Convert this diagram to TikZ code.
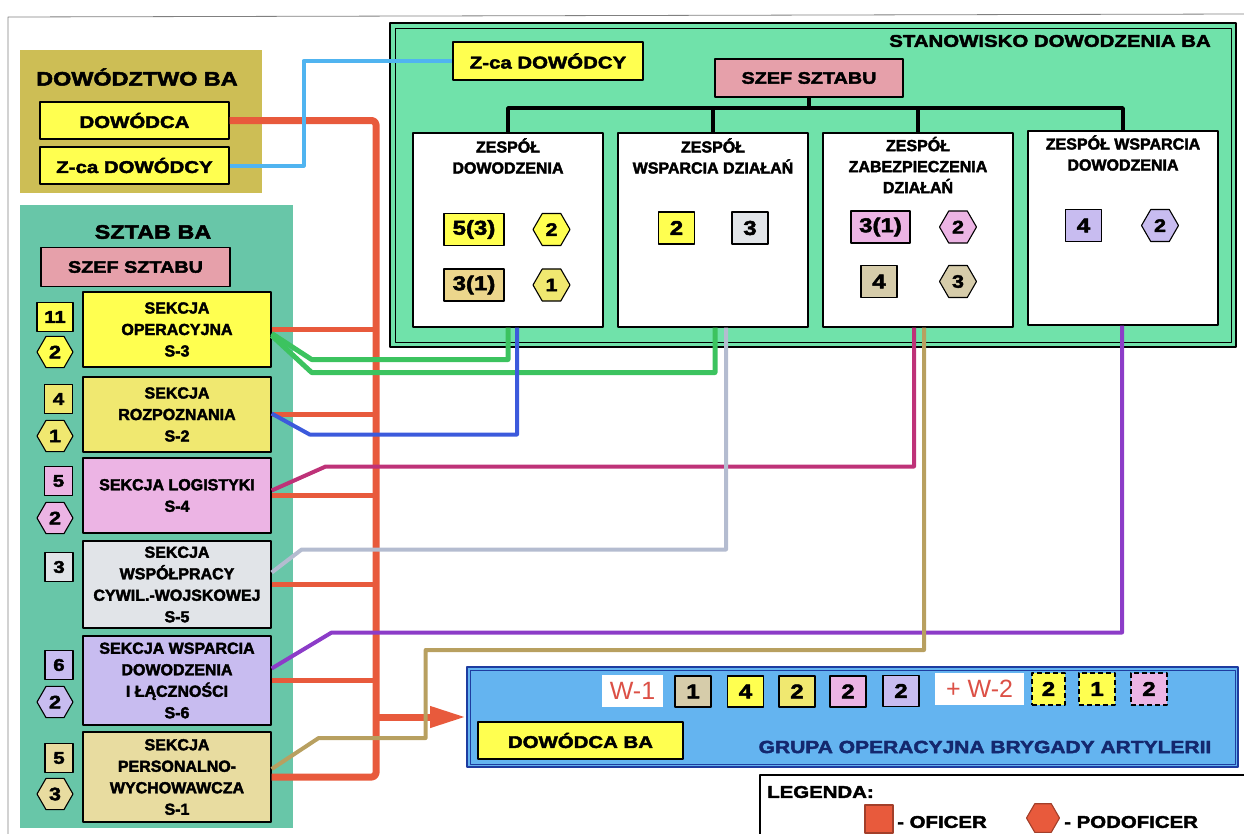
\documentclass[tikz,border=0pt]{standalone}
\usepackage{fontspec}
\setmainfont{Liberation Sans}[BoldFeatures={FakeBold=2.5}]
\newfontfamily\widefont{Liberation Sans}[FakeStretch=1.2, BoldFeatures={FakeBold=2.5}]
\usetikzlibrary{arrows.meta,shapes.geometric,calc}

\definecolor{colive}{RGB}{205,190,85}
\definecolor{cteal}{RGB}{104,198,168}
\definecolor{cmint}{RGB}{112,226,170}
\definecolor{cyellow}{RGB}{255,255,80}
\definecolor{cyellowb}{RGB}{240,232,112}
\definecolor{cpink}{RGB}{230,160,170}
\definecolor{corchid}{RGB}{236,180,228}
\definecolor{cgray}{RGB}{225,228,232}
\definecolor{clav}{RGB}{200,188,240}
\definecolor{cbeige}{RGB}{232,220,160}
\definecolor{ckhaki}{RGB}{236,214,140}
\definecolor{cstone}{RGB}{214,204,170}
\definecolor{cblue}{RGB}{100,180,240}
\definecolor{cdblue}{RGB}{30,60,160}
\definecolor{cred}{RGB}{232,90,60}
\definecolor{cwred}{RGB}{220,80,70}
\definecolor{cgreen}{RGB}{60,195,95}
\definecolor{cbline}{RGB}{60,90,220}
\definecolor{ccyan}{RGB}{80,180,240}
\definecolor{cmag}{RGB}{190,50,120}
\definecolor{cgline}{RGB}{180,188,208}
\definecolor{cpurple}{RGB}{140,60,200}
\definecolor{ctan}{RGB}{184,160,96}
\definecolor{cnavy}{RGB}{20,40,110}

\begin{document}
\begin{tikzpicture}[
    x=1pt, y=-1pt,
    line join=round,
    box/.style={draw, line width=1.3pt, inner sep=0pt},
    person/.style={box, fill=cyellow, minimum width=189pt, minimum height=37pt,
        font=\widefont\bfseries\fontsize{17}{17}\selectfont},
    chief/.style={box, fill=cpink, minimum width=189pt, minimum height=39pt,
        font=\widefont\bfseries\fontsize{16.5}{16.5}\selectfont},
    sect/.style={box, minimum width=188pt, align=center,
        font=\bfseries\fontsize{16}{21.5}\selectfont},
    cnt/.style={box, minimum width=28pt, minimum height=29pt,
        font=\widefont\bfseries\fontsize{17}{17}\selectfont},
    hexa/.style={regular polygon, regular polygon sides=6, draw, line width=1.1pt,
        minimum size=36pt, inner sep=0pt,
        font=\widefont\bfseries\fontsize{18}{18}\selectfont},
    team/.style={box, fill=white, minimum width=190pt, minimum height=194pt},
    teamtitle/.style={align=center, inner sep=0pt,
        font=\bfseries\fontsize{16}{21}\selectfont},
    num/.style={box, minimum width=36pt, minimum height=32pt,
        font=\widefont\bfseries\fontsize{20}{20}\selectfont},
    paneltitle/.style={inner sep=0pt,
        font=\widefont\bfseries\fontsize{19.5}{19.5}\selectfont},
    smalltitle/.style={inner sep=0pt,
        font=\widefont\bfseries\fontsize{17}{17}\selectfont},
    wlabel/.style={fill=white, inner sep=0pt, minimum height=32pt, text=cwred,
        font=\fontsize{25}{25}\selectfont},
    conn/.style={line width=4pt},
    redline/.style={line width=7pt, color=cred},
    redstub/.style={line width=5pt, color=cred},
    treeline/.style={line width=3.5pt}
]
\clip (0,0) rectangle (1244,833);

% Ramka
\draw[gray, line width=0.8pt] (8,840) -- (8,17) -- (1244,14);

% Dowodztwo BA
\fill[colive] (20,50) rectangle (262,193);
\node[paneltitle] (dowt) at (137,77) {DOWÓDZTWO BA};
\node[person] (dowodca) at (134.5,120.5) {DOWÓDCA};
\node[person] (zcaL) at (134.5,165.5) {Z-ca DOWÓDCY};

% Sztab BA
\fill[cteal] (20,205) rectangle (293,828);
\node[paneltitle] (sztt) at (153,232) {SZTAB BA};
\node[chief] (szef1) at (135.5,267) {SZEF SZTABU};

\node[sect, fill=cyellow, minimum height=75pt] (s3) at (177,329.5) {SEKCJA\\OPERACYJNA\\S-3};
\node[sect, fill=cyellowb, minimum height=75pt] (s2) at (177,414.5) {SEKCJA\\ROZPOZNANIA\\S-2};
\node[sect, fill=corchid, minimum height=75pt] (s4) at (177,495.5) {SEKCJA LOGISTYKI\\S-4};
\node[sect, fill=cgray, minimum height=87pt] (s5) at (177,584.5) {SEKCJA\\WSPÓŁPRACY\\CYWIL.-WOJSKOWEJ\\S-5};
\node[sect, fill=clav, minimum height=89pt] (s6) at (177,680.5) {SEKCJA WSPARCIA\\DOWODZENIA\\I ŁĄCZNOŚCI\\S-6};
\node[sect, fill=cbeige, minimum height=90pt] (s1) at (177,777) {SEKCJA\\PERSONALNO-\\WYCHOWAWCZA\\S-1};

% Liczebnosc sekcji
\node[cnt, fill=cyellow, minimum width=36pt] (c3) at (55,317) {11};
\node[hexa, fill=cyellow] (h3) at (55,352) {2};
\node[cnt, fill=cyellowb] (c2) at (58.5,399) {4};
\node[hexa, fill=cyellowb] (h2) at (55,436) {1};
\node[cnt, fill=corchid] (c4) at (58.5,481) {5};
\node[hexa, fill=corchid] (h4) at (55,518) {2};
\node[cnt, fill=cgray] (c5) at (59,567) {3};
\node[cnt, fill=clav] (c6) at (59,665) {6};
\node[hexa, fill=clav] (h6) at (55,702) {2};
\node[cnt, fill=cbeige] (c1) at (59,758) {5};
\node[hexa, fill=cbeige] (h1) at (55,794) {3};

% Stanowisko dowodzenia BA
\fill[cmint] (390,23) rectangle (1236,347);
\draw[line width=2.5pt] (390,23) rectangle (1236,347);
\draw[line width=0.9pt] (395,28) rectangle (1231,342);
\node[smalltitle] (stant) at (1050,41) {STANOWISKO DOWODZENIA BA};
\node[person, minimum width=190pt, minimum height=38pt] (zcaR) at (548,61) {Z-ca DOWÓDCY};
\node[chief, minimum width=188pt, minimum height=38pt] (szef2) at (809,78) {SZEF SZTABU};

\node[team] (zd1) at (508,230) {};
\node[team] (zd2) at (713,230) {};
\node[team] (zd3) at (918,230) {};
\node[team] (zd4) at (1123,228) {};

% Drzewko
\coordinate (tree) at (0,108);
\draw[treeline] (zd1.north) |- (tree -| zd4.north) -- (zd4.north);
\foreach \t in {szef2.south, zd2.north, zd3.north}
    \draw[treeline] (\t) -- (\t |- tree);

% Zespoly
\node[teamtitle] (zd1t) at (508,156) {ZESPÓŁ\\DOWODZENIA};
\node[teamtitle] (zd2t) at (713,156) {ZESPÓŁ\\WSPARCIA DZIAŁAŃ};
\node[teamtitle] (zd3t) at (918,165) {ZESPÓŁ\\ZABEZPIECZENIA\\DZIAŁAŃ};
\node[teamtitle] (zd4t) at (1123,153) {ZESPÓŁ WSPARCIA\\DOWODZENIA};

\node[num, fill=cyellow, minimum width=60pt] (n1a) at (474,229.5) {5(3)};
\node[hexa, fill=cyellow, minimum size=37pt] (x1a) at (551.5,229.5) {2};
\node[num, fill=ckhaki, minimum width=60pt] (n1b) at (474,285) {3(1)};
\node[hexa, fill=cyellowb, minimum size=37pt] (x1b) at (551.5,285) {1};
\node[num, fill=cyellow] (n2a) at (676.5,228) {2};
\node[num, fill=cgray] (n2b) at (750,228) {3};
\node[num, fill=corchid, minimum width=59pt] (n3a) at (880.5,227) {3(1)};
\node[hexa, fill=corchid, minimum size=37pt] (x3a) at (958,227) {2};
\node[num, fill=cstone] (n3b) at (879,281.5) {4};
\node[hexa, fill=cstone, minimum size=37pt] (x3b) at (958,281.5) {3};
\node[num, fill=clav] (n4a) at (1083.5,225.5) {4};
\node[hexa, fill=clav, minimum size=37pt] (x4a) at (1160,225.5) {2};

% Grupa operacyjna
\node[draw=cdblue, line width=2pt, fill=cblue, minimum width=771pt,
    minimum height=100pt, inner sep=0pt] (grupa) at (852.5,717) {};
\draw[cdblue, line width=1pt] ($(grupa.north west)+(4,4)$) rectangle ($(grupa.south east)+(-4,-4)$);

\node[wlabel, minimum width=61pt] (w1) at (632.5,691) {W-1};
\node[num, fill=cstone, minimum height=31pt] (g1) at (693,691.5) {1};
\node[num, fill=cyellow, minimum height=31pt] (g2) at (745.5,691.5) {4};
\node[num, fill=cyellowb, minimum height=31pt] (g3) at (797,691.5) {2};
\node[num, fill=corchid, minimum height=31pt] (g4) at (848,691.5) {2};
\node[num, fill=clav, minimum height=31pt] (g5) at (901,691) {2};
\node[wlabel, minimum width=89pt] (w2) at (979.5,689) {+ W-2};
\node[num, fill=cyellow, dash pattern=on 5pt off 3pt, minimum width=33pt] (g6) at (1048.5,689) {2};
\node[num, fill=cyellow, dash pattern=on 5pt off 3pt] (g7) at (1097,689) {1};
\node[num, fill=corchid, dash pattern=on 5pt off 3pt] (g8) at (1149,689) {2};

\node[person, minimum width=205pt] (dowba) at (580.5,740.5) {DOWÓDCA BA};
\node[smalltitle, text=cnavy, font=\widefont\bfseries\fontsize{17.5}{17.5}\selectfont]
    (grupat) at (985,747) {GRUPA  OPERACYJNA BRYGADY ARTYLERII};

% Legenda
\draw[line width=1.3pt, fill=white] (760,775) rectangle (1250,850);
\node[smalltitle, anchor=west] (legt) at (767,792) {LEGENDA:};
\node[box, fill=cred, draw=cred!70!black, minimum size=28pt] (lsq) at (879,819) {};
\node[smalltitle, anchor=west] (lofi) at (897,822) {- OFICER};
\node[hexa, fill=cred, draw=cred!70!black, minimum size=33pt] (lhex) at (1043,818) {};
\node[smalltitle, anchor=west] (lpod) at (1064,822) {- PODOFICER};

% Linie podporzadkowania
\coordinate (bus) at (376,0);
\draw[redline, rounded corners=4pt] (dowodca.east) -| (bus |- s1.east) -- (s1.east);
\foreach \s in {s3,s2,s4,s5,s6}
    \draw[redstub] (\s.east) -- (bus |- \s.east);
\draw[redline, -{Triangle[length=36pt,width=20pt]}] (bus |- grupa.west) -- (grupa.west);

\draw[conn, ccyan] (zcaL.east) -- ++(74,0) |- (zcaR.west);

\draw[conn, cgreen, line width=5pt] ($(s3.east)+(0,4)$) -- ++(40,26) -| (zd1.south);
\draw[conn, cgreen, line width=5pt] ($(s3.east)+(0,6)$) -- ++(40,37) -| ($(zd2.south)+(2,0)$);
\draw[conn, cbline] ($(s2.east)+(0,-1)$) -- ++(38,21) -| ($(zd1.south)+(9,0)$);
\draw[conn, cmag] ($(s4.east)+(0,-5)$) -- ++(54,-24) -| ($(zd3.south)+(-4,0)$);
\draw[conn, cgline] ($(s5.east)+(0,-12)$) -- ++(30,-23) -| ($(zd2.south)+(13,0)$);
\draw[conn, cpurple] ($(s6.east)+(0,-12)$) -- ++(60,-36) -| ($(zd4.south)+(-1,0)$);
\draw[conn, ctan] ($(s1.east)+(0,-8)$) -- ++(47,-31) -- ++(107,0) -- ++(0,-88)
    -| ($(zd3.south)+(6,0)$);

\end{tikzpicture}
\end{document}
